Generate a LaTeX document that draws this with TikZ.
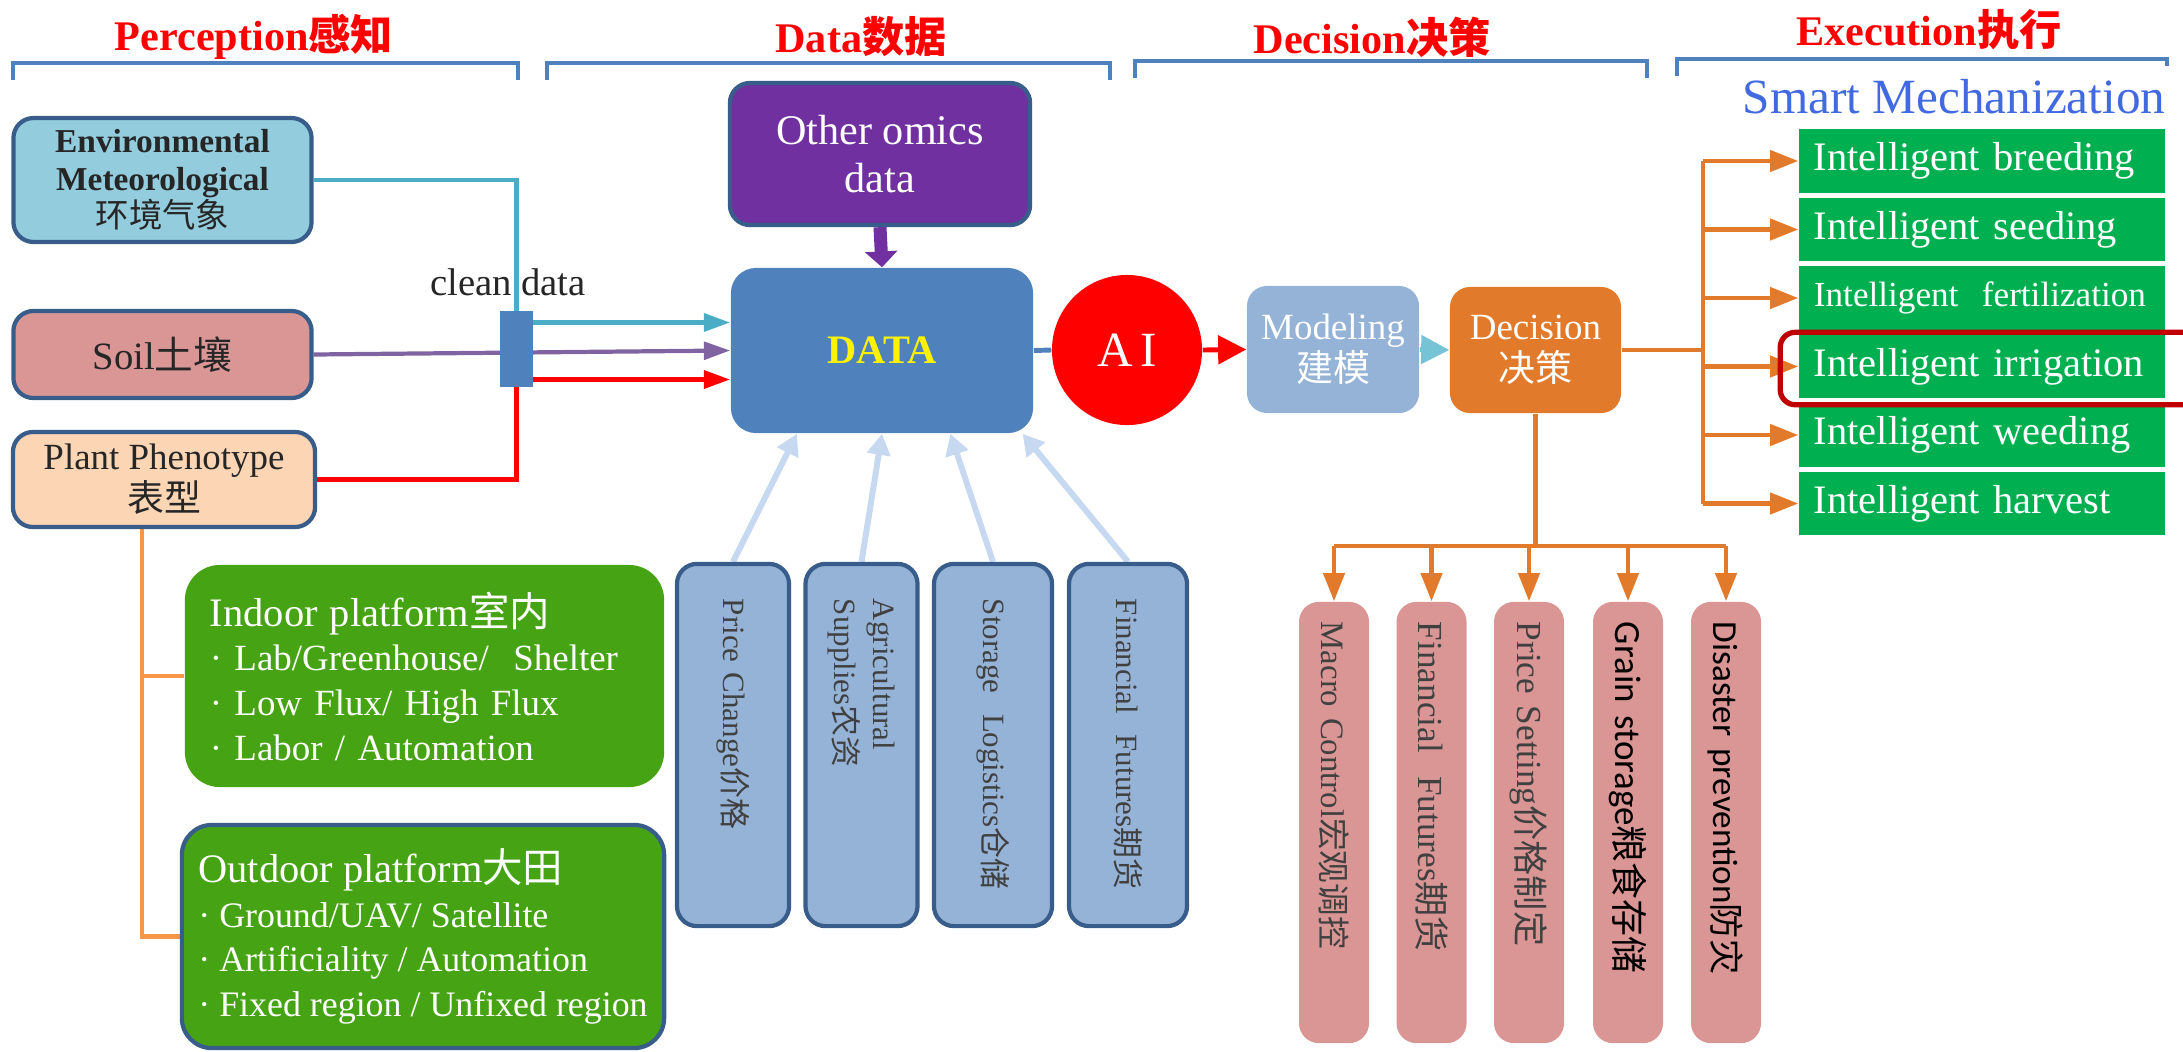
\documentclass[tikz,border=0pt]{standalone}
\usepackage{fontspec}
\setmainfont{Liberation Serif}
\newfontfamily\cjk{Noto Sans CJK SC}
\newfontfamily\calib{Carlito}
\usetikzlibrary{arrows.meta,calc}

\definecolor{boxline}{RGB}{56,93,138}
\definecolor{envfill}{RGB}{147,205,221}
\definecolor{soilfill}{RGB}{217,150,148}
\definecolor{phenofill}{RGB}{252,213,181}
\definecolor{datablue}{RGB}{79,129,189}
\definecolor{envline}{RGB}{75,172,198}
\definecolor{soilline}{RGB}{128,100,162}
\definecolor{omicsfill}{RGB}{112,48,160}
\definecolor{modfill}{RGB}{149,179,215}
\definecolor{decfill}{RGB}{226,122,43}
\definecolor{mechgreen}{RGB}{0,176,80}
\definecolor{platgreen}{RGB}{70,163,20}
\definecolor{phline}{RGB}{247,150,70}
\definecolor{feedline}{RGB}{198,217,241}
\definecolor{hilite}{RGB}{192,0,0}
\definecolor{smartblue}{RGB}{65,105,225}
\definecolor{txtdark}{RGB}{38,38,38}
\definecolor{txtgray}{RGB}{64,64,64}
\definecolor{modarrow}{RGB}{117,195,213}

\pgfdeclarelayer{back}
\pgfsetlayers{back,main}

\tikzset{
  box/.style={draw=boxline, line width=1.2pt, rounded corners=0.2cm, align=center, text=txtdark},
  hdr/.style={text=red, font=\bfseries\fontsize{12}{14}\selectfont},
  brk/.style={datablue, line width=1.1pt},
  outbox/.style={fill=mechgreen, text=white, minimum width=3.66cm, minimum height=0.63cm, inner ysep=0pt,
    inner xsep=0.15cm, text width=3.36cm, align=left, font=\fontsize{11.5}{13}\selectfont},
  feedbox/.style={box, fill=modfill, rotate=-90, minimum width=3.62cm, minimum height=1.12cm,
    inner xsep=0.35cm, text width=2.92cm, align=left, text=txtgray, font=\fontsize{8.8}{11}\selectfont},
  govbox/.style={fill=soilfill, rounded corners=0.2cm, rotate=-90, minimum width=4.41cm, minimum height=0.7cm,
    inner xsep=0.2cm, text width=4.01cm, align=left, text=txtgray},
  platbox/.style={fill=platgreen, rounded corners=0.35cm, text=white, align=left,
    font=\fontsize{10.5}{12.7}\selectfont},
  inarr/.style={-{Triangle[width=5pt,length=7.5pt]}},
  decln/.style={decfill, line width=1.2pt},
  decarr/.style={decln, -{Triangle[width=6pt,length=8pt]}},
  feedarr/.style={feedline, line width=1.7pt, -{Triangle[width=6.5pt,length=6pt]}}
}

\begin{document}
\begin{tikzpicture}[x=0.01cm, y=-0.01cm]
  \useasboundingbox (0,0) rectangle (2183,1051);

  % headers and brackets
  \node[hdr] (hper) at (254,37) {Perception{\cjk 感知}};
  \node[hdr] (hdat) at (861,37) {Data{\cjk 数据}};
  \node[hdr] (hdec) at (1372,37) {Decision{\cjk 决策}};
  \node[hdr] (hexe) at (1929,30) {Execution{\cjk 执行}};
  \draw[brk] (13,80) -- (13,63) -- (518,63) -- (518,80);
  \draw[brk] (547,80) -- (547,63) -- (1110,63) -- (1110,80);
  \draw[brk] (1135,78) -- (1135,61) -- (1647,61) -- (1647,78);
  \draw[brk] (1677,76) -- (1677,59) -- (2167,59) -- (2167,66);
  \node[anchor=east, inner sep=0pt, text=smartblue, font=\fontsize{14}{16}\selectfont] (smart) at (2166,97) {Smart Mechanization};

  % perception
  \node[box, fill=envfill, minimum width=2.98cm, minimum height=1.16cm, font=\fontsize{9.5}{10.6}\selectfont]
    (env) at (162.5,180) {{\bfseries Environmental}\\{\bfseries Meteorological}\\{\cjk 环境气象}};
  \node[box, fill=soilfill, minimum width=2.98cm, minimum height=0.87cm, font=\fontsize{11}{13}\selectfont]
    (soil) at (162.5,354.5) {Soil{\cjk 土壤}};
  \node[box, fill=phenofill, minimum width=3.02cm, minimum height=0.95cm, font=\fontsize{10.5}{12}\selectfont]
    (pheno) at (164,479.5) {Plant Phenotype\\{\cjk 表型}};
  \node[fill=datablue, minimum width=0.33cm, minimum height=0.76cm, inner sep=0pt] (bar) at (516.5,349) {};
  \node[text=txtdark, font=\fontsize{11}{13}\selectfont] (clean) at (508,282) {clean data};

  \node[platbox, minimum width=4.79cm, minimum height=2.22cm, inner xsep=0.25cm, text width=4.29cm] (indoor) at (424.5,676)
    {{\fontsize{11.5}{12.7}\selectfont Indoor platform{\cjk 室内}}\\· Lab/Greenhouse/\ \ Shelter\\· Low Flux/ High Flux\\· Labor / Automation};
  \node[platbox, draw=boxline, line width=1.2pt, rounded corners=0.3cm, minimum width=4.82cm, minimum height=2.23cm,
    inner xsep=0.1cm, font=\fontsize{10.2}{12.7}\selectfont] (outdoor) at (423,936.5)
    {{\fontsize{11.5}{12.7}\selectfont Outdoor platform{\cjk 大田}}\\· Ground/UAV/\ Satellite\\· Artificiality / Automation\\· Fixed region / Unfixed region};

  % data
  \node[box, fill=omicsfill, text=white, minimum width=3cm, minimum height=1.42cm, font=\fontsize{12}{13.7}\selectfont]
    (omics) at (880,154) {Other omics\\data};
  \node[fill=datablue, rounded corners=0.25cm, minimum width=3.02cm, minimum height=1.65cm, text=yellow,
    font=\bfseries\fontsize{11.5}{13}\selectfont] (data) at (882,350.5) {DATA};
  \node[feedbox] (b1) at (733,745) {Price Change{\cjk 价格}};
  \node[feedbox] (b2) at (861.5,745) {Agricultural\\Supplies{\cjk 农资}};
  \node[feedbox, minimum height=1.18cm] (b3) at (993,745) {Storage\ \ Logistics{\cjk 仓储}};
  \node[feedbox, minimum height=1.18cm] (b4) at (1128,745) {Financial\ \ Futures{\cjk 期货}};

  % decision
  \node[circle, fill=red, minimum size=1.5cm, inner sep=0pt, text=white, font=\fontsize{14}{16}\selectfont]
    (ai) at (1127,350) {A\hspace{0.15em}I};
  \node[fill=modfill, rounded corners=0.2cm, minimum width=1.72cm, minimum height=1.27cm, align=center, text=white,
    font=\fontsize{10.5}{12}\selectfont] (model) at (1333,349.5) {Modeling\\{\cjk 建模}};
  \node[fill=decfill, rounded corners=0.2cm, minimum width=1.71cm, minimum height=1.26cm, align=center, text=white,
    font=\fontsize{10.5}{12}\selectfont] (dec) at (1535.5,350) {Decision\\{\cjk 决策}};
  \node[govbox, font=\fontsize{9.3}{11}\selectfont] (p1) at (1334,822.5) {Macro Control{\cjk 宏观调控}};
  \node[govbox, font=\fontsize{10}{12}\selectfont] (p2) at (1431.5,822.5) {Financial\ \ Futures{\cjk 期货}};
  \node[govbox, font=\fontsize{10}{12}\selectfont] (p3) at (1529,822.5) {Price Setting{\cjk 价格制定}};
  \node[govbox, text=black, font=\calib\fontsize{10.5}{12}\selectfont] (p4) at (1628,822.5) {Grain storage{\cjk 粮食存储}};
  \node[govbox, text=black, font=\calib\fontsize{10}{12}\selectfont] (p5) at (1726,822.5) {Disaster prevention{\cjk 防灾}};

  % execution
  \node[outbox] (g1) at (1982,161) {Intelligent breeding};
  \node[outbox] (g2) at (1982,229.5) {Intelligent seeding};
  \node[outbox, font=\fontsize{10}{12}\selectfont] (g3) at (1982,298) {Intelligent\ \ fertilization};
  \node[outbox] (g4) at (1982,366.5) {Intelligent irrigation};
  \node[outbox] (g5) at (1982,435) {Intelligent weeding};
  \node[outbox] (g6) at (1982,503.5) {Intelligent harvest};
  \draw[hilite, line width=1.5pt, rounded corners=0.15cm] ($(g4.north west)+(-18,-2)$) rectangle ($(g4.south east)+(40,6)$);

  \begin{pgfonlayer}{back}
    \coordinate (inC) at ([yshift=0.28cm]data.west);
    \coordinate (inR) at ([yshift=-0.29cm]data.west);
    \draw[envline, line width=1.4pt, inarr] (env.east) -| (bar.north) |- (inC);
    \draw[soilline, line width=1.2pt, inarr] (soil.east) -- (data.west);
    \draw[red, line width=1.4pt, inarr] (pheno.east) -| (bar.south) |- (inR);
    \coordinate (ph) at ([xshift=-0.22cm]pheno.south);
    \draw[phline, line width=1.2pt] (ph) |- (indoor.west);
    \draw[phline, line width=1.2pt] (ph) |- (outdoor.west);
    \draw[omicsfill, line width=3.7pt, -{Triangle[width=9pt,length=4.5pt]}] (omics.south) -- (data.north);
    \foreach \b/\f in {b1/0.22, b2/0.5, b3/0.725, b4/0.963}
      \draw[feedarr] (\b.west) -- ($(data.south west)!\f!(data.south east)$);
    \draw[datablue, line width=1.4pt] (data.east) -- (ai.west);
    \draw[red, line width=1.4pt, -{Triangle[width=8pt,length=8pt]}] (ai.east) -- (model.west);
    \draw[modarrow, line width=1.4pt, -{Triangle[width=8pt,length=8pt]}] (model.east) -- (dec.west);
    \coordinate (tk) at ($(dec.east)+(81,0)$);
    \draw[decln] (dec.east) -- (tk);
    \draw[decln] (tk |- g1.west) -- (tk |- g6.west);
    \foreach \g in {g1,g2,g3,g4,g5,g6}
      \draw[decarr] (tk |- \g.west) -- (\g.west);
    \coordinate (sp) at ($(dec.south)+(0,132)$);
    \draw[decln] (dec.south) -- (sp);
    \draw[decln] (sp -| p1.west) -- (sp -| p5.west);
    \foreach \p in {p1,p2,p3,p4,p5}
      \draw[decarr] (sp -| \p.west) -- (\p.west);
  \end{pgfonlayer}
\end{tikzpicture}
\end{document}
